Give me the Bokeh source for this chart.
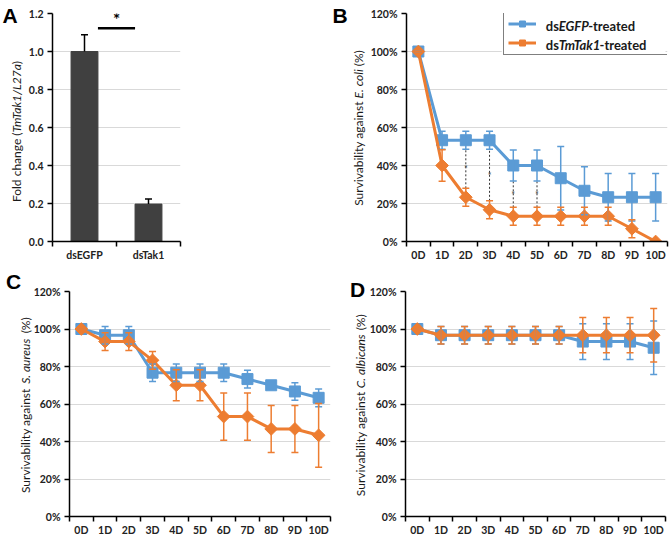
import subprocess
import functools
import numpy as np
from bokeh.plotting import figure
from bokeh.models import (Range1d, FixedTicker, PrintfTickFormatter, Whisker, TeeHead,
                          ColumnDataSource, Label, Legend, LegendItem)
from bokeh.layouts import column, row
from bokeh.core.properties import value
from bokeh.embed import file_html
from bokeh.resources import INLINE

# ---------------- data ----------------
a_groups = ["dsEGFP", "dsTak1"]
a_fold = [1.0, 0.197]
a_err = [0.088, 0.027]
a_yticks = [0.0, 0.2, 0.4, 0.6, 0.8, 1.0, 1.2]

days = ["0D", "1D", "2D", "3D", "4D", "5D", "6D", "7D", "8D", "9D", "10D"]
pct_ticks = [0, 20, 40, 60, 80, 100, 120]

b_egfp = [100, 53.3, 53.3, 53.3, 40.0, 40.0, 33.3, 26.7, 23.3, 23.3, 23.3]
b_egfp_err = [0, 4.7, 4.7, 4.7, 8.2, 8.2, 16.7, 12.6, 12.5, 12.5, 12.5]
b_tak = [100, 40.0, 23.3, 16.7, 13.3, 13.3, 13.3, 13.3, 13.3, 6.7, 0]
b_tak_err = [0, 8.3, 4.7, 4.7, 4.7, 4.7, 4.7, 4.7, 4.7, 4.7, 0]
b_sig_days = ["2D", "3D", "4D", "5D"]

c_egfp = [100, 96.7, 96.7, 76.7, 76.7, 76.7, 76.7, 73.3, 70.0, 66.7, 63.3]
c_egfp_err = [0, 4.7, 4.7, 4.7, 4.7, 4.7, 4.7, 4.7, 0, 4.7, 4.7]
c_tak = [100, 93.3, 93.3, 83.3, 70.0, 70.0, 53.3, 53.3, 46.7, 46.7, 43.3]
c_tak_err = [0, 4.7, 4.7, 4.7, 8.3, 8.3, 12.6, 12.6, 12.5, 12.5, 17.0]

d_egfp = [100, 96.7, 96.7, 96.7, 96.7, 96.7, 96.7, 93.3, 93.3, 93.3, 90.0]
d_egfp_err = [0, 4.7, 4.7, 4.7, 4.7, 4.7, 4.7, 9.5, 9.5, 9.5, 14.3]
d_tak = [100, 96.7, 96.7, 96.7, 96.7, 96.7, 96.7, 96.7, 96.7, 96.7, 96.7]
d_tak_err = [0, 4.7, 4.7, 4.7, 4.7, 4.7, 4.7, 9.4, 9.4, 9.4, 14.3]

# ---------------- style ----------------
FONT = "Lato"
LETTER_FONT = "Liberation Sans"
BLUE = "#5B9BD5"
ORANGE = "#ED7D31"
GRID = "#d9d9d9"
YLAB_SIZE = 12
NBSP = "\u00a0"


@functools.lru_cache(None)
def _font_path(bold, italic):
    style = []
    if bold:
        style.append("bold")
    if italic:
        style.append("italic")
    pat = FONT + (":" + ":".join(style) if style else "")
    try:
        out = subprocess.run(["fc-match", "-f", "%{file}", pat], capture_output=True,
                             text=True, timeout=10).stdout.strip()
        return out or None
    except Exception:
        return None


def text_w(s, size, bold=False, italic=False):
    if not s:
        return 0.0
    path = _font_path(bold, italic)
    if path:
        try:
            from PIL import ImageFont
            f = ImageFont.truetype(path, 200)
            return f.getlength(s) * size / 200.0
        except Exception:
            pass
    return len(s) * size * (0.55 if bold else 0.5)


class Frame:
    """Convert pixel offsets (from the frame's top-left, y downwards) to data coords."""
    def __init__(self, p, x0, x1, y0, y1, fw, fh):
        self.p, self.x0, self.x1, self.y0, self.y1, self.fw, self.fh = p, x0, x1, y0, y1, fw, fh

    def dx(self, px):
        return self.x0 + px * (self.x1 - self.x0) / self.fw

    def dy(self, py):
        return self.y1 - py * (self.y1 - self.y0) / self.fh

    def label(self, px, py, text, size, style="normal", angle=0.0, align="left",
              baseline="middle", font=FONT, color="#1a1a1a", place="left"):
        lab = Label(x=self.dx(px), y=self.dy(py), x_units="data", y_units="data",
                    text=text, angle=angle, text_font=font,
                    text_font_size=f"{size}px", text_font_style=style,
                    text_color=color, text_align=align, text_baseline=baseline)
        if place == "center":
            self.p.add_layout(lab)
        else:
            self.p.add_layout(lab, place)


def rich_text(fr, segments, px, py, size, bold=False, vertical=False, place="left"):
    """Mixed roman/italic text centred on (px, py); vertical text reads bottom-to-top."""
    total = sum(text_w(s, size, bold, it) for s, it in segments)
    pos = -total / 2.0
    for s, it in segments:
        lead = s[:len(s) - len(s.lstrip())]
        core = s.strip()
        off = pos + text_w(lead, size, bold, it)
        if core:
            style = (("bold " if bold else "") + ("italic" if it else "")).strip() or "normal"
            if vertical:
                fr.label(px, py - off, core, size, style, angle=np.pi / 2, place=place)
            else:
                fr.label(px + off, py, core, size, style, place=place)
        pos += text_w(s, size, bold, it)


def vlabel2(fr, before, italic, after, px, py, size, place):
    """Vertical label in two pieces: roman text with a no-break-space gap + italic word."""
    w_b, w_a = text_w(before, size), text_w(after, size)
    w_i = text_w(italic, size, italic=True)
    w_sp = text_w(" ", size)
    n = max(1, int(round((2 * w_sp + w_i) / w_sp)))
    gap = n * w_sp
    # one extra no-break space: the browser renders them a little narrower
    start = py + (w_b + gap + w_sp + w_a) / 2.0
    fr.label(px, start, before + NBSP * (n + 1) + after, size, "normal", angle=np.pi / 2,
             align="left", place=place)
    fr.label(px, start - w_b - gap / 2.0 + 0.5, italic, size, "italic", angle=np.pi / 2,
             align="center", place=place)


def letter(fr, px, py, txt, place):
    fr.label(px, py, txt, 21, "bold", align="left", baseline="top", font=LETTER_FONT,
             color="black", place=place)


def base_fig(w, h, left, right, top, bottom, xr, yr):
    p = figure(width=w, height=h, x_range=xr, y_range=yr, output_backend="svg",
               toolbar_location=None, min_border_left=left, min_border_right=right,
               min_border_top=top, min_border_bottom=bottom)
    p.outline_line_color = None
    p.background_fill_color = "white"
    p.border_fill_color = "white"
    p.xgrid.grid_line_color = None
    p.ygrid.grid_line_color = GRID
    p.ygrid.grid_line_width = 1
    for ax in (p.xaxis[0], p.yaxis[0]):
        ax.axis_line_color = "black"
        ax.axis_line_width = 1.5
        ax.major_label_text_font = FONT
        ax.major_label_text_font_style = "bold"
        ax.major_label_text_font_size = "10.5px"
        ax.major_label_text_color = "#222222"
        ax.major_tick_line_color = "black"
        ax.major_tick_line_width = 1.5
        ax.minor_tick_line_color = "black"
        ax.minor_tick_line_width = 1.5
    p.yaxis.major_tick_out = 5
    p.yaxis.major_tick_in = 0
    p.yaxis.minor_tick_out = 0
    p.yaxis.minor_tick_in = 0
    p.yaxis.major_label_standoff = 4
    p.xaxis.major_tick_out = 0
    p.xaxis.major_tick_in = 0
    p.xaxis.minor_tick_out = 5
    p.xaxis.minor_tick_in = 0
    p.xaxis.major_label_standoff = 2
    return p


def cat_axis(p, labels):
    centers = [i + 0.5 for i in range(len(labels))]
    bounds = [float(i) for i in range(len(labels) + 1)]
    p.xaxis.ticker = FixedTicker(ticks=centers, minor_ticks=bounds)
    p.xaxis.major_label_overrides = {c: l for c, l in zip(centers, labels)}
    return centers


def survival(w, h, left, right, top, bottom, egfp, egfp_err, tak, tak_err, sig_days=None):
    p = base_fig(w, h, left, right, top, bottom, Range1d(0, len(days)), Range1d(0, 120))
    xs = cat_axis(p, days)
    p.yaxis.ticker = FixedTicker(ticks=pct_ticks, minor_ticks=[])
    p.ygrid.ticker = FixedTicker(ticks=pct_ticks, minor_ticks=[])
    p.yaxis.formatter = PrintfTickFormatter(format="%d%%")

    if sig_days:
        idx = [days.index(d) for d in sig_days]
        sx = [xs[i] for i in idx]
        lo = [tak[i] + tak_err[i] for i in idx]
        hi = [egfp[i] - egfp_err[i] for i in idx]
        p.segment(x0=sx, x1=sx, y0=lo, y1=hi, line_color="#333333", line_width=1,
                  line_dash="2 2")
        p.text(x=sx, y=[(a + b) / 2 for a, b in zip(lo, hi)], text=["*"] * len(sx),
               text_font=value(FONT), text_font_size="9px", text_color="#444444",
               text_align="center", text_baseline="middle")

    rends = []
    for vals, errs, col, size, ang in [(egfp, egfp_err, BLUE, 11, 0.0),
                                       (tak, tak_err, ORANGE, 9, np.pi / 4)]:
        src = ColumnDataSource(dict(x=xs, y=vals,
                                    upper=[v + e for v, e in zip(vals, errs)],
                                    lower=[v - e for v, e in zip(vals, errs)]))
        p.add_layout(Whisker(base="x", upper="upper", lower="lower", source=src, level="glyph",
                             line_color=col, line_width=1.5,
                             upper_head=TeeHead(size=7, line_color=col, line_width=1.5),
                             lower_head=TeeHead(size=7, line_color=col, line_width=1.5)))
        ln = p.line("x", "y", source=src, line_color=col, line_width=3)
        sc = p.scatter("x", "y", source=src, marker="square", size=size, angle=ang,
                       fill_color=col, line_color=col)
        rends.append((ln, sc))
    return p, rends


def ylab(organism):
    return [("Survivability against ", False), (organism, True), (" (%)", False)]


# ======== row 1 ========
WA, HA, LA, RA, TA, BA = 367, 268, 52, 187, 13, 27
fwA, fhA = WA - LA - RA, HA - TA - BA          # frame 52..180 x 13..241
WB, HB, LB, RB, TB, BB = 669 - WA, 268, 34, 2, 13, 26
fwB, fhB = WB - LB - RB, HB - TB - BB          # frame 401..667 x 13..242

# ---- Panel A ----
pA = base_fig(WA, HA, LA, RA, TA, BA, Range1d(0, len(a_groups)), Range1d(0, 1.2))
frA = Frame(pA, 0, len(a_groups), 0, 1.2, fwA, fhA)
a_x = cat_axis(pA, a_groups)
pA.yaxis.ticker = FixedTicker(ticks=a_yticks, minor_ticks=[])
pA.ygrid.ticker = FixedTicker(ticks=a_yticks, minor_ticks=[])
pA.yaxis.formatter = PrintfTickFormatter(format="%.1f")
bar_w = 0.42
srcA = ColumnDataSource(dict(x=a_x, top=a_fold,
                             upper=[f + e for f, e in zip(a_fold, a_err)]))
pA.vbar(x="x", top="top", width=bar_w, source=srcA, fill_color="#404040", line_color="#404040")
pA.add_layout(Whisker(base="x", upper="upper", lower="top", source=srcA, level="glyph",
                      line_color="black", line_width=1.5,
                      upper_head=TeeHead(size=7, line_color="black", line_width=1.5),
                      lower_head=None))
sig_y = max(f + e for f, e in zip(a_fold, a_err)) + 0.035
pA.segment(x0=[a_x[0] + bar_w / 2], x1=[a_x[1] - bar_w / 2], y0=[sig_y], y1=[sig_y],
           line_color="black", line_width=2.5)
pA.text(x=[(a_x[0] + a_x[1]) / 2], y=[sig_y + 0.045], text=["*"], text_font=value(FONT),
        text_font_style="bold", text_font_size="17px", text_align="center",
        text_baseline="middle", text_color="black")

# texts of panels A and B live in A's (wide, empty) right border panel
rich_text(frA, [("Fold change (", False), ("TmTak1/L27a", True), (")", False)],
          px=-36, py=fhA / 2 + 4, size=YLAB_SIZE, vertical=True, place="right")
letter(frA, -50, -10, "A", "right")
b_frame_left = WA + LB - LA                      # B frame left, in A-frame pixels
letter(frA, b_frame_left - 69, -10, "B", "right")
rich_text(frA, ylab("E. coli"), px=b_frame_left - 43, py=fhB / 2, size=YLAB_SIZE,
          vertical=True, place="right")

# ---- Panel B ----
pB, rB = survival(WB, HB, LB, RB, TB, BB, b_egfp, b_egfp_err, b_tak, b_tak_err,
                  sig_days=b_sig_days)
frB = Frame(pB, 0, len(days), 0, 120, fwB, fhB)
box_w, box_h, pad, gw, stand = 167, 42, 4, 28, 13
box_left = fwB - box_w - 2
box_top = 1
pB.quad(left=[frB.dx(box_left)], right=[frB.dx(box_left + box_w)],
        top=[frB.dy(box_top)], bottom=[frB.dy(box_top + box_h)],
        fill_color="white", line_color=None)
legB = Legend(items=[LegendItem(label=" ", renderers=list(rB[0])),
                     LegendItem(label=" ", renderers=list(rB[1]))],
              location=(box_left, fhB - box_top - box_h), orientation="vertical",
              padding=pad, spacing=4, margin=0, glyph_width=gw, glyph_height=15,
              label_height=15, label_width=box_w - 2 * pad - gw - stand, label_standoff=stand,
              border_line_color="black", border_line_width=1.2,
              background_fill_alpha=0.0, label_text_font_size="1px")
pB.add_layout(legB)
tx = box_left + pad + gw + stand
row1 = box_top + pad + 7.5
leg_txt1 = [("ds", False), ("EGFP", True), ("-treated", False)]
leg_txt2 = [("ds", False), ("TmTak1", True), ("-treated", False)]
for segs, ry in [(leg_txt1, row1), (leg_txt2, row1 + 19)]:
    w_tot = sum(text_w(s, 13, True, it) for s, it in segs)
    rich_text(frB, segs, px=tx + w_tot / 2, py=ry, size=13, bold=True, place="center")

# ======== row 2 ========
WC, HC, LC, RC, TC, BC = 336, 274, 62, 6, 22, 26
WD, HD, LD, RD, TD, BD = 669 - WC, 274, 62, 4, 22, 26
estL, estT = 67, 26          # left border / top border after the label panels
fwC, fhC = WC - estL - RC, HC - estT - BC
fwD, fhD = WD - estL - RD, HD - estT - BD

pC, _ = survival(WC, HC, LC, RC, TC, BC, c_egfp, c_egfp_err, c_tak, c_tak_err)
frC = Frame(pC, 0, len(days), 0, 120, fwC, fhC)
vlabel2(frC, "Survivability against", "S. aureus", "(%)", px=-44, py=fhC / 2,
        size=YLAB_SIZE, place="left")
letter(frC, -64, -21, "C", "above")

pD, _ = survival(WD, HD, LD, RD, TD, BD, d_egfp, d_egfp_err, d_tak, d_tak_err)
frD = Frame(pD, 0, len(days), 0, 120, fwD, fhD)
vlabel2(frD, "Survivability against", "C. albicans", "(%)", px=-45, py=fhD / 2,
        size=YLAB_SIZE, place="left")
letter(frD, -56, -13, "D", "above")

layout = column(row(pA, pB), row(pC, pD))
open("out.html", "w").write(file_html(layout, INLINE))
